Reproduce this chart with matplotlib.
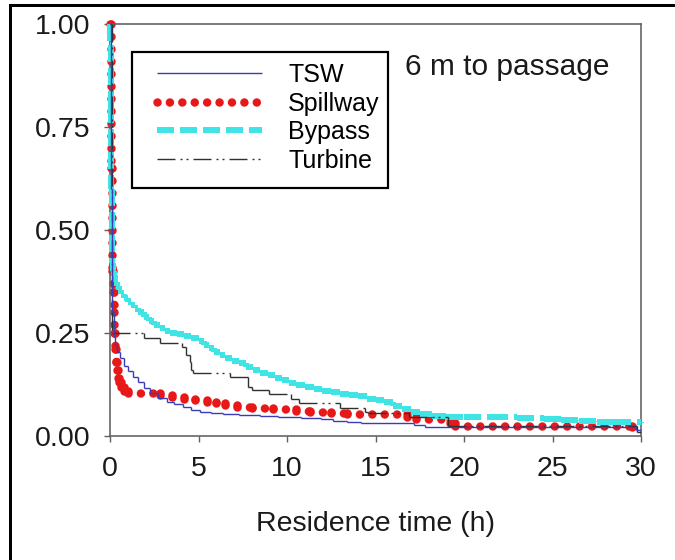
import matplotlib
matplotlib.use("Agg")
import matplotlib.pyplot as plt
from matplotlib.collections import LineCollection
from matplotlib.lines import Line2D
from matplotlib.patches import Rectangle

plt.rcParams['font.family'] = ['Liberation Sans', 'DejaVu Sans']
plt.rcParams['lines.scale_dashes'] = False

# ---------------- data (survival proportion vs residence time) ----------------
tsw_t = [0, 0.05, 0.1, 0.2, 0.3, 0.4, 0.56, 0.8, 1.0, 1.3, 1.6, 1.9, 2.26, 2.7,
         3.2, 3.6, 4.1, 4.6, 5.1, 5.7, 6.4, 7.3, 8.5, 9.5, 10.8, 11.9, 12.6,
         13.4, 14.2, 17.2, 17.8, 29.7, 30]
tsw_p = [1.0, 0.6, 0.3, 0.24, 0.22, 0.205, 0.19, 0.17, 0.158, 0.143, 0.13, 0.117,
         0.104, 0.093, 0.083, 0.077, 0.07, 0.064, 0.058, 0.055, 0.053, 0.05, 0.048,
         0.046, 0.043, 0.041, 0.037, 0.034, 0.032, 0.027, 0.023, 0.014, 0.014]

spill_t = [0, 0.05, 0.1, 0.15, 0.2, 0.25, 0.3, 0.35, 0.4, 0.45, 0.5, 0.6, 0.8, 1.0,
           2.8, 3.5, 4.2, 4.8, 5.5, 6.0, 6.5, 7.2, 8.0, 9.2, 10.5, 11.3, 12.5, 13.4,
           16.8, 17.3, 19.2, 19.5, 29.5, 30]
spill_p = [1.0, 0.65, 0.40, 0.35, 0.30, 0.25, 0.21, 0.18, 0.16, 0.14, 0.13, 0.12,
           0.11, 0.105, 0.10, 0.095, 0.09, 0.087, 0.083, 0.079, 0.075, 0.07, 0.068,
           0.066, 0.061, 0.058, 0.055, 0.053, 0.045, 0.041, 0.031, 0.025, 0.022, 0.022]

bypass_t = [0, 0.02, 0.05, 0.08, 0.1, 0.15, 0.2, 0.3, 0.4, 0.5, 0.6, 0.8, 1.0, 1.2,
            1.4, 1.6, 1.9, 2.2, 2.5, 2.8, 3.1, 3.4, 3.8, 4.2, 4.6, 5.0, 5.3, 5.6,
            5.9, 6.2, 6.5, 6.9, 7.3, 7.7, 8.1, 8.5, 8.9, 9.3, 9.7, 10.1, 10.5, 11.0,
            11.5, 12.0, 12.5, 13.0, 13.5, 14.0, 14.5, 15.0, 15.5, 16.0, 16.5, 17.0,
            17.5, 18.2, 19.0, 20.0, 21.5, 23.0, 24.5, 25.5, 26.5, 27.5, 28.5, 30]
bypass_p = [1.0, 0.95, 0.80, 0.60, 0.42, 0.40, 0.39, 0.375, 0.365, 0.355, 0.345,
            0.335, 0.325, 0.318, 0.31, 0.30, 0.29, 0.28, 0.27, 0.262, 0.255, 0.25,
            0.247, 0.243, 0.237, 0.23, 0.222, 0.213, 0.204, 0.197, 0.19, 0.183,
            0.176, 0.168, 0.161, 0.154, 0.147, 0.141, 0.135, 0.129, 0.124, 0.119,
            0.115, 0.11, 0.106, 0.103, 0.10, 0.096, 0.091, 0.087, 0.082, 0.074,
            0.066, 0.058, 0.053, 0.049, 0.047, 0.046, 0.045, 0.044, 0.041, 0.039,
            0.037, 0.035, 0.033, 0.032]

turb_t = [0, 0.1, 1.9, 2.8, 4.05, 4.3, 4.5, 4.6, 4.7, 6.8, 7.8, 8.0, 9.0, 10.2,
          10.7, 13.0, 14.4, 14.6, 16.9, 19.1, 29.8, 30]
turb_p = [1.0, 0.25, 0.238, 0.226, 0.216, 0.197, 0.18, 0.16, 0.153, 0.143, 0.119,
          0.112, 0.102, 0.09, 0.08, 0.068, 0.058, 0.056, 0.046, 0.025, 0.01, 0.01]

labels = ["TSW", "Spillway", "Bypass", "Turbine"]

# ---------------- styles ----------------
PX = 0.72  # points per pixel at 100 dpi
W, H = 675, 560
c_tsw = "#3b3bb5"
c_spill = "#e81818"
c_byp = "#40e4e4"
c_turb = "#303030"
sty = {
    "TSW": dict(color=c_tsw, lw=1.4 * PX, ls="solid", cap="butt"),
    "Spillway": dict(color=c_spill, lw=8.5 * PX, ls=(0, (0.01, 12.4 * PX)), cap="round"),
    "Bypass": dict(color=c_byp, lw=6 * PX, ls=(0, (17 * PX, 6 * PX)), cap="butt"),
    "Turbine": dict(color=c_turb, lw=1.4 * PX,
                    ls=(0, (18 * PX, 5 * PX, 2 * PX, 4 * PX, 2 * PX, 5 * PX)), cap="butt"),
}


def step_segments(t, p):
    segs = []
    for i in range(len(t) - 1):
        segs.append([(t[i], p[i]), (t[i + 1], p[i])])
        segs.append([(t[i + 1], p[i]), (t[i + 1], p[i + 1])])
    return segs


fig = plt.figure(figsize=(W / 100, H / 100), dpi=100)
ax = fig.add_axes([110 / W, 1 - 436 / H, (641 - 110) / W, (436 - 24) / H])

series = [("TSW", tsw_t, tsw_p), ("Spillway", spill_t, spill_p),
          ("Bypass", bypass_t, bypass_p), ("Turbine", turb_t, turb_p)]
zorders = {"Spillway": 2, "Bypass": 3, "Turbine": 4, "TSW": 5}
for name, t, p in series:
    s = sty[name]
    lc = LineCollection(step_segments(t, p), colors=s["color"], linewidths=s["lw"],
                        linestyles=[s["ls"]], capstyle=s["cap"], zorder=zorders[name],
                        clip_on=False)
    ax.add_collection(lc)

ax.set_xlim(0, 30)
ax.set_ylim(0, 1.0)
ax.set_xticks([0, 5, 10, 15, 20, 25, 30])
ax.set_yticks([0, 0.25, 0.5, 0.75, 1.0])
ax.set_yticklabels(["0.00", "0.25", "0.50", "0.75", "1.00"])
spine_c = "#606060"
for sp in ax.spines.values():
    sp.set_color(spine_c)
    sp.set_linewidth(1.6 * PX)
ax.tick_params(direction="out", length=6 * PX, width=1.4 * PX, color=spine_c,
               labelsize=20.5, labelcolor="#1a1a1a", pad=10)
ax.set_xlabel("Residence time (h)", fontsize=20.5, color="#1a1a1a", labelpad=21)

# legend (frame drawn separately as a rectangle)
handles = []
for name in labels:
    s = sty[name]
    h = Line2D([], [], color=s["color"], lw=s["lw"], ls=s["ls"])
    h.set_dash_capstyle(s["cap"])
    h.set_solid_capstyle(s["cap"])
    handles.append(h)
frame = Rectangle((132 / W, 1 - 188 / H), (388 - 132) / W, (188 - 52) / H,
                  transform=fig.transFigure, facecolor="white",
                  edgecolor="black", lw=2.2 * PX, zorder=9, clip_on=False)
ax.add_artist(frame)
leg = ax.legend(handles, labels, loc="upper left",
                bbox_to_anchor=(157 / W, 1 - 63 / H), bbox_transform=fig.transFigure,
                borderaxespad=0, borderpad=0, fontsize=18, frameon=False,
                handlelength=4.2, handletextpad=1.05, labelspacing=0.18)
leg.set_zorder(10)

fig.text(405 / W, 1 - 67 / H, "6 m to passage", fontsize=21.5, color="#1a1a1a",
         ha="left", va="center")

# figure border (left and top)
fig.add_artist(Line2D([10 / W, 10 / W], [0, 1 - 5 / H], transform=fig.transFigure,
                      color="black", lw=3 * PX))
fig.add_artist(Line2D([10 / W, 1], [1 - 5 / H, 1 - 5 / H], transform=fig.transFigure,
                      color="black", lw=3 * PX))

fig.savefig("out.png", dpi=100)
